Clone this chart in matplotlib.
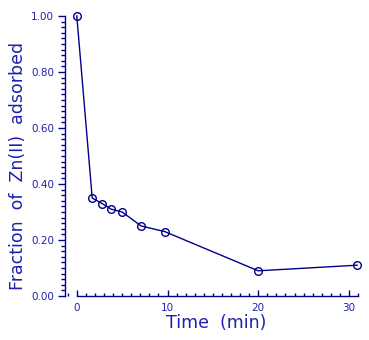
import matplotlib
matplotlib.use('Agg')
import matplotlib.pyplot as plt
from matplotlib.ticker import MultipleLocator, FormatStrFormatter

# data
time_min = [0.0, 1.7, 2.8, 3.8, 5.0, 7.1, 9.7, 20.0, 30.9]
fraction = [1.00, 0.35, 0.33, 0.31, 0.30, 0.25, 0.23, 0.09, 0.11]

x_ticks = [0, 10, 20, 30]
y_ticks = [0.0, 0.2, 0.4, 0.6, 0.8, 1.0]

line_col = '#000088'
text_col = '#2020b0'

fig = plt.figure(figsize=(3.69, 3.40), dpi=100)
ax = fig.add_axes([65 / 369, 44 / 340, 293 / 369, 280 / 340])

ax.plot(time_min, fraction, color=line_col, lw=1.0, marker='o', ms=5.5,
        mfc='none', mec=line_col, mew=1.0, clip_on=False)

ax.set_xlim(-1.3, 31.0)
ax.set_ylim(0, 1.0)

for s in ['top', 'right']:
    ax.spines[s].set_visible(False)
ax.spines['bottom'].set_bounds(0, 31)
ax.spines['left'].set_bounds(0, 1.0)
for s in ['bottom', 'left']:
    ax.spines[s].set_color(line_col)
    ax.spines[s].set_linewidth(1.0)

ax.set_xticks(x_ticks)
ax.set_yticks(y_ticks)
ax.xaxis.set_minor_locator(MultipleLocator(1))
ax.yaxis.set_minor_locator(MultipleLocator(0.02))
ax.yaxis.set_major_formatter(FormatStrFormatter('%.2f'))

ax.tick_params(axis='x', which='both', direction='in', colors=line_col,
               labelcolor=text_col, labelsize=7.5, pad=5)
ax.tick_params(axis='x', which='major', length=4, width=1.0)
ax.tick_params(axis='x', which='minor', length=2.5, width=1.0)
ax.tick_params(axis='y', which='both', direction='out', colors=line_col,
               labelcolor=text_col, labelsize=7.5, pad=3)
ax.tick_params(axis='y', which='major', length=5, width=1.0)
ax.tick_params(axis='y', which='minor', length=3, width=1.0)

ax.set_xlabel('Time  (min)', color=text_col, fontsize=12.5, labelpad=1)
ax.set_ylabel('Fraction  of  Zn(II)  adsorbed', color=text_col,
              fontsize=12.5, labelpad=3)
ax.xaxis.label.set_x(0.515)
ax.yaxis.label.set_y(0.464)

fig.savefig('out.png', dpi=100)
